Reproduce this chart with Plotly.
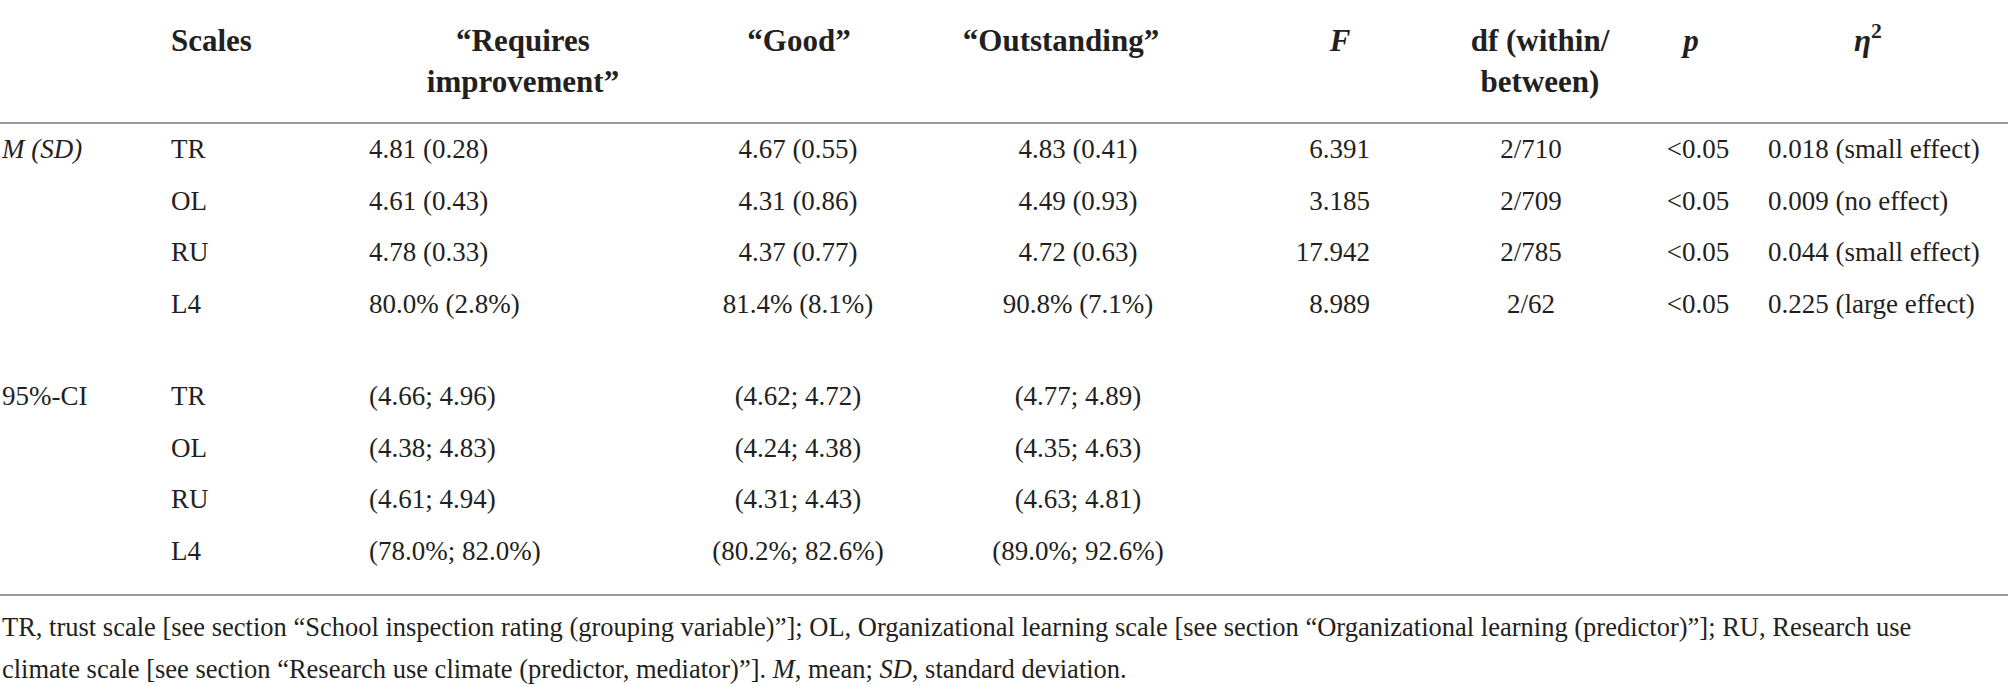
"""ANOVA summary table (inspection rating groups) rendered as a Plotly figure."""

import plotly.graph_objects as go

# ---- data -----------------------------------------------------------------
scales = ["TR", "OL", "RU", "L4"]
units = ["", "", "", "%"]
decimals = [2, 2, 2, 1]

mean_requires = [4.81, 4.61, 4.78, 80.0]
sd_requires = [0.28, 0.43, 0.33, 2.8]
mean_good = [4.67, 4.31, 4.37, 81.4]
sd_good = [0.55, 0.86, 0.77, 8.1]
mean_outstanding = [4.83, 4.49, 4.72, 90.8]
sd_outstanding = [0.41, 0.93, 0.63, 7.1]

f_values = [6.391, 3.185, 17.942, 8.989]
df_within = [2, 2, 2, 2]
df_between = [710, 709, 785, 62]
p_below = [0.05, 0.05, 0.05, 0.05]
eta_sq = [0.018, 0.009, 0.044, 0.225]
effect_size = ["small effect", "no effect", "small effect", "large effect"]

ci_requires = [(4.66, 4.96), (4.38, 4.83), (4.61, 4.94), (78.0, 82.0)]
ci_good = [(4.62, 4.72), (4.24, 4.38), (4.31, 4.43), (80.2, 82.6)]
ci_outstanding = [(4.77, 4.89), (4.35, 4.63), (4.63, 4.81), (89.0, 92.6)]

block_labels = ["<i>M (SD)</i>", "95%-CI"]
headers = [
    "<b>Scales</b>",
    "<b>“Requires<br>improvement”</b>",
    "<b>“Good”</b>",
    "<b>“Outstanding”</b>",
    "<b><i>F</i></b>",
    "<b>df (within/<br>between)</b>",
    "<b><i>p</i></b>",
    "<b><i>η</i><sup>2</sup></b>",
]
footnote_lines = [
    "TR, trust scale [see section “School inspection rating (grouping variable)”]; "
    "OL, Organizational learning scale [see section “Organizational learning (predictor)”]; "
    "RU, Research use",
    "climate scale [see section “Research use climate (predictor, mediator)”]. "
    "<i>M</i>, mean; <i>SD</i>, standard deviation.",
]

# ---- layout constants (pixels) ---------------------------------------------
W, H = 2008, 686
TEXT = "#231f20"
RULE = "#9a9a9a"
FONT = "Liberation Serif"
BODY_SIZE = 27
FOOT_SIZE = 26.5
HEAD_SIZE = 31

HEAD_X = [171, 523, 799, 1061, 1340, 1540, 1691, 1868]
HEAD_POS = ["bottom right"] + ["bottom center"] * 7
HEAD_Y = 28
RULE_Y = [123, 595]
ROW_PITCH = 51.8
BLOCK_TOP = [151, 398]
FOOT_Y = [629, 671]


def mean_sd(means, sds):
    return [f"{m:.{d}f}{u} ({s:.{d}f}{u})"
            for m, s, d, u in zip(means, sds, decimals, units)]


def interval(cis):
    return [f"({lo:.{d}f}{u}; {hi:.{d}f}{u})"
            for (lo, hi), d, u in zip(cis, decimals, units)]


rows_a = [BLOCK_TOP[0] + i * ROW_PITCH for i in range(len(scales))]
rows_b = [BLOCK_TOP[1] + i * ROW_PITCH for i in range(len(scales))]

# (x anchor, textposition, y rows, texts)
columns = [
    (2, "middle right", [rows_a[0], rows_b[0]], block_labels),
    (171, "middle right", rows_a + rows_b, scales + scales),
    (369, "middle right", rows_a + rows_b,
     mean_sd(mean_requires, sd_requires) + interval(ci_requires)),
    (798, "middle center", rows_a + rows_b,
     mean_sd(mean_good, sd_good) + interval(ci_good)),
    (1078, "middle center", rows_a + rows_b,
     mean_sd(mean_outstanding, sd_outstanding) + interval(ci_outstanding)),
    (1370, "middle left", rows_a, [f"{v:.3f}" for v in f_values]),
    (1531, "middle center", rows_a,
     [f"{w}/{b}" for w, b in zip(df_within, df_between)]),
    (1698, "middle center", rows_a, [f"&lt;{p}" for p in p_below]),
    (1768, "middle right", rows_a,
     [f"{e:.3f} ({t})" for e, t in zip(eta_sq, effect_size)]),
]

fig = go.Figure()

fig.add_trace(go.Scatter(
    x=HEAD_X, y=[HEAD_Y] * len(headers), text=headers, mode="text",
    textposition=HEAD_POS,
    textfont=dict(family=FONT, size=HEAD_SIZE, color=TEXT),
    hoverinfo="skip", showlegend=False,
))

for x0, pos, ys, texts in columns:
    fig.add_trace(go.Scatter(
        x=[x0] * len(texts), y=ys, text=texts, mode="text",
        textposition=pos,
        textfont=dict(family=FONT, size=BODY_SIZE, color=TEXT),
        hoverinfo="skip", showlegend=False,
    ))

fig.add_trace(go.Scatter(
    x=[2] * len(footnote_lines), y=FOOT_Y, text=footnote_lines, mode="text",
    textposition="middle right",
    textfont=dict(family=FONT, size=FOOT_SIZE, color=TEXT),
    hoverinfo="skip", showlegend=False,
))

for y0 in RULE_Y:
    fig.add_shape(type="line", xref="paper", x0=0, x1=1, yref="y", y0=y0, y1=y0,
                  line=dict(color=RULE, width=2))

fig.update_layout(
    width=W, height=H,
    margin=dict(l=0, r=0, t=0, b=0),
    paper_bgcolor="white", plot_bgcolor="white",
    xaxis=dict(range=[0, W], visible=False, fixedrange=True),
    yaxis=dict(range=[H, 0], visible=False, fixedrange=True),
)

fig.write_html("out.html", config={"displayModeBar": False},
               post_script="document.body.style.margin='0';")
